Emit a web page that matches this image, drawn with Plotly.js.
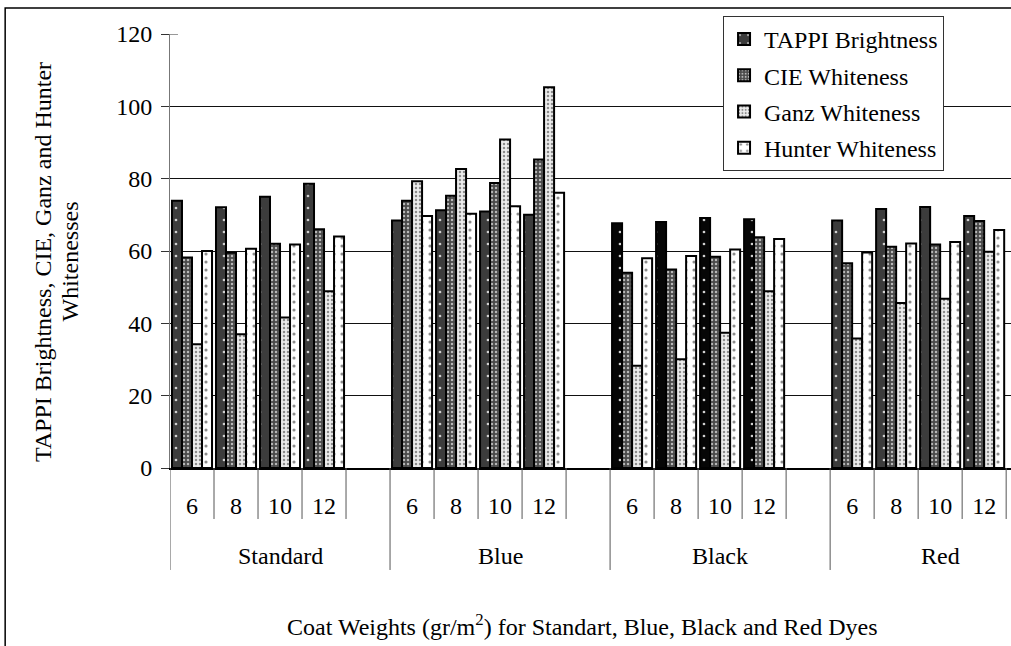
<!DOCTYPE html>
<html>
<head>
<meta charset="utf-8">
<script src="https://cdn.plot.ly/plotly-3.0.1.min.js"></script>
<style>
  html, body { margin: 0; padding: 0; background: #fff; overflow: hidden; }
  #chart { width: 1011px; height: 646px; }
</style>
</head>
<body>
<div id="chart"></div>
<script>
// Dye groups and coat weights (gr/m2) along the x axis
const dyes = ['Standard', 'Blue', 'Black', 'Red'];
const coatWeights = ['6', '8', '10', '12'];

// Measured optical properties, ordered dye by dye, weight by weight
const tappiBrightness = [73.9, 72.1, 75.0, 78.6, 68.4, 71.3, 70.9, 70.0, 67.7, 68.0, 69.1, 68.8, 68.4, 71.6, 72.2, 69.7];
const cieWhiteness    = [58.2, 59.5, 62.0, 66.0, 73.9, 75.3, 78.8, 85.3, 54.0, 54.9, 58.4, 63.8, 56.6, 61.2, 61.8, 68.3];
const ganzWhiteness   = [34.2, 37.0, 41.6, 48.9, 79.3, 82.7, 90.8, 105.3, 28.3, 30.1, 37.4, 48.9, 35.8, 45.6, 46.8, 59.8];
const hunterWhiteness = [60.0, 60.6, 61.8, 64.0, 69.7, 70.3, 72.4, 76.1, 58.0, 58.6, 60.4, 63.3, 59.6, 62.1, 62.5, 65.8];

// Y axis title, one entry per line
const yTitleLines = ['TAPPI Brightness, CIE, Ganz and Hunter', 'Whitenesses'];
const xTitle = 'Coat Weights (gr/m<sup>2</sup>) for Standart, Blue, Black and Red Dyes';

// Each dye block holds one slot per coat weight plus an empty trailing slot
const slotsPerDye = coatWeights.length + 1;
const xPos = [];
const xText = [];
const dyeOfPoint = [];
dyes.forEach((dye, g) => {
  coatWeights.forEach((w, i) => {
    xPos.push(g * slotsPerDye + i);
    xText.push(w);
    dyeOfPoint.push(dye);
  });
});

const FONT = 'Liberation Serif';
const outline = { color: '#000', width: 2 };

function barTrace(name, values, pattern) {
  return {
    type: 'bar',
    name: name,
    x: xPos,
    y: values,
    legendgroup: name,
    marker: { line: outline, pattern: pattern },
    hoverinfo: 'name+y'
  };
}

const traces = [
  barTrace('TAPPI Brightness', tappiBrightness, {
    shape: '.', fillmode: 'replace', size: 12, solidity: 0.04,
    bgcolor: dyeOfPoint.map(d => d === 'Black' ? '#060606' : '#3c3c3c'),
    fgcolor: '#d0d0d0'
  }),
  barTrace('CIE Whiteness', cieWhiteness, {
    shape: '.', fillmode: 'replace', size: 4, solidity: 0.3,
    bgcolor: '#4a4a4a', fgcolor: '#b8b8b8'
  }),
  barTrace('Ganz Whiteness', ganzWhiteness, {
    shape: '.', fillmode: 'replace', size: 4, solidity: 0.3,
    bgcolor: '#ececec', fgcolor: '#8c8c8c'
  }),
  barTrace('Hunter Whiteness', hunterWhiteness, {
    shape: '.', fillmode: 'replace', size: 8, solidity: 0.12,
    bgcolor: '#ffffff', fgcolor: '#8c8c8c'
  })
];

// Category separators below the axis: short ones between weights,
// long ones between dye blocks
const shapes = [];
const sepColor = '#555';
dyes.forEach((dye, g) => {
  const start = g * slotsPerDye - 0.5;
  shapes.push({ type: 'line', xref: 'x', yref: 'paper', x0: start, x1: start, y0: 0, y1: -0.235,
                line: { color: sepColor, width: 1 } });
  for (let i = 1; i < slotsPerDye; i++) {
    shapes.push({ type: 'line', xref: 'x', yref: 'paper', x0: start + i, x1: start + i, y0: 0, y1: -0.1175,
                  line: { color: sepColor, width: 1 } });
  }
});
// Inner half of the crossing tick at the top of the value axis
shapes.push({ type: 'line', xref: 'paper', yref: 'y', x0: 0, x1: 0.0095, y0: 120, y1: 120,
              line: { color: '#333', width: 1 } });
// Chart frame
shapes.push({ type: 'rect', xref: 'paper', yref: 'paper', x0: -0.196, x1: 1.05, y0: -0.5, y1: 1.0599,
              line: { color: '#000', width: 1.5 }, fillcolor: 'rgba(0,0,0,0)' });

const textFont = { family: FONT, size: 24, color: '#000' };

const annotations = dyes.map((dye, g) => ({
  text: dye, xref: 'x', yref: 'paper', x: g * slotsPerDye + (coatWeights.length - 1) / 2 + 0.5,
  y: -0.2028, xanchor: 'center', yanchor: 'middle', showarrow: false, font: textFont
}));
const yTitleX = [-0.1510, -0.1195];
yTitleLines.forEach((line, k) => {
  annotations.push({
    text: line, xref: 'paper', yref: 'paper', x: yTitleX[k], y: 0.4747, textangle: -90,
    xanchor: 'center', yanchor: 'middle', showarrow: false, font: textFont
  });
});
annotations.push({
  text: xTitle, xref: 'paper', yref: 'paper', x: 0.4899, y: -0.3618,
  xanchor: 'center', yanchor: 'middle', showarrow: false, font: textFont
});

const layout = {
  width: 1011,
  height: 646,
  margin: { l: 170, r: 0, t: 34, b: 178, pad: 0 },
  paper_bgcolor: '#fff',
  plot_bgcolor: '#fff',
  font: textFont,
  barmode: 'group',
  bargap: 0.09,
  bargroupgap: 0,
  showlegend: true,
  legend: {
    x: 0.6576, y: 1.0415, xanchor: 'left', yanchor: 'top',
    bgcolor: '#fff', bordercolor: '#333', borderwidth: 1,
    font: textFont,
    traceorder: 'grouped', tracegroupgap: 2
  },
  xaxis: {
    range: [-0.5, 18.61],
    tickmode: 'array', tickvals: xPos, ticktext: xText,
    ticks: '', ticklabelstandoff: 16,
    tickfont: textFont,
    showgrid: false, zeroline: false,
    showline: true, linecolor: '#000', linewidth: 1.5
  },
  yaxis: {
    range: [0, 120], dtick: 20, tick0: 0,
    ticks: 'outside', ticklen: 8, tickcolor: '#333', tickwidth: 1,
    ticklabelstandoff: 4,
    tickfont: textFont,
    showgrid: true, gridcolor: '#111', gridwidth: 1,
    zeroline: false, showline: true, linecolor: '#777', linewidth: 1
  },
  shapes: shapes,
  annotations: annotations
};

Plotly.newPlot('chart', traces, layout, { displayModeBar: false, staticPlot: true });
</script>
</body>
</html>
